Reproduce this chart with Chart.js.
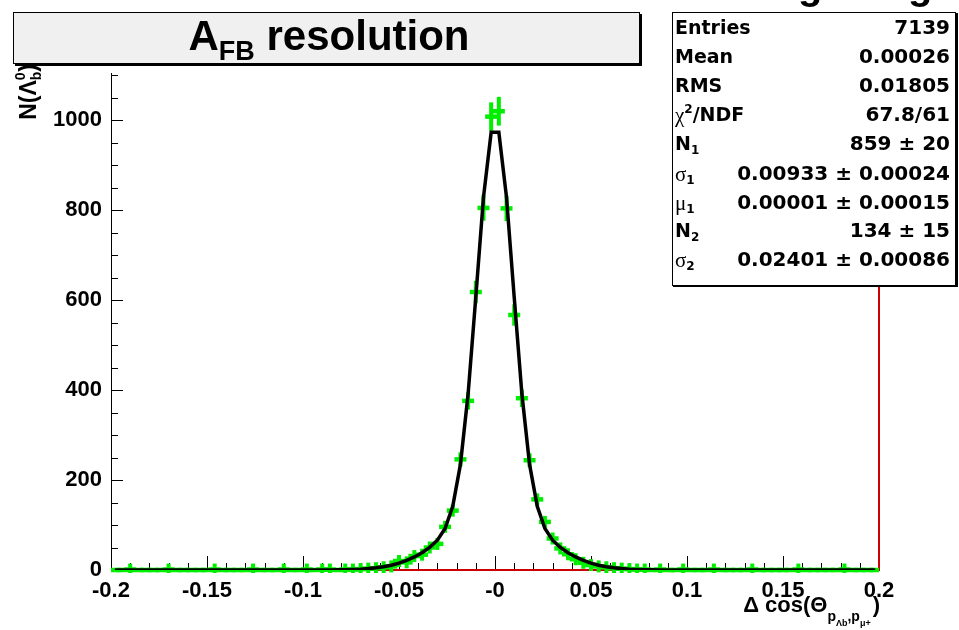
<!DOCTYPE html>
<html><head><meta charset="utf-8">
<script src="https://cdn.jsdelivr.net/npm/chart.js@4.4.0/dist/chart.umd.min.js"></script>
<style>html,body{margin:0;padding:0;background:#fff;}canvas{display:block;}</style>
</head><body>
<canvas id="c" width="959" height="630"></canvas>
<script>
// ---- data ----
const binLow = -0.2, binWidth = 0.004;
const counts = [
  0,0,1,0,0,0,0,1,0,0, 0,0,0,1,0,0,0,0,1,0, 0,0,1,0,0,1,0,1,
  1,0,1,1,2,3,4,6,8,20,17,31,34,50,58,96,132,246,376,618,805,1008,
  1020,804,567,382,244,157,107,70,48,35,24,16,11,8,6,4,3,2,1,1,0,1,
  0,0,1,0,0,0,1,0,0,0, 0,1,0,0,0,0,0,1,0,0, 0,0,0,1,0,0,0,0
];
const fitValues = [
  0,0,0,0,0,0,0,0,0,0, 0,0,0,0,0,0,0,0,0,0, 0,0,0,0,0,0,0,
  0.1,0.2,0.4,0.7,1.2,1.9,3.1,4.8,7.2,10.7,15.3,21.4,29.0,38.5,50.3,66.3,92.3,141.4,234.8,391.8,606.6,828.5,973,
  973,828.5,606.6,391.8,234.8,141.4,92.3,66.3,50.3,38.5,29.0,21.4,15.3,10.7,7.2,4.8,3.1,1.9,1.2,0.7,0.4,0.2,0.1,
  0,0,0,0,0,0,0,0,0,0, 0,0,0,0,0,0,0,0,0,0, 0,0,0,0,0,0,0
];
const redLineX = [-0.2, 0.2, 0.2];
const redLineY = [0, 0, 1105];
const xTickValues = [-0.2,-0.15,-0.1,-0.05,0,0.05,0.1,0.15,0.2];
const xTickLabels = ["-0.2","-0.15","-0.1","-0.05","-0","0.05","0.1","0.15","0.2"];
const yTickValues = [0,200,400,600,800,1000];
const yTickLabels = ["0","200","400","600","800","1000"];
const statNames = ["Entries","Mean","RMS","χ2/NDF","N1","σ1","μ1","N2","σ2"];
const statValues = ["7139","0.00026","0.01805","67.8/61","859 ± 20","0.00933 ± 0.00024","0.00001 ± 0.00015","134 ± 15","0.02401 ± 0.00086"];
const titleText = ["A","FB"," resolution"];

const binCenters = counts.map((_, i) => binLow + binWidth * (i + 0.5));
const fitData = fitValues.map((v, i) => ({x: binCenters[i], y: v}));
const countData = counts.map((v, i) => ({x: binCenters[i], y: v}));
const redData = redLineX.map((v, i) => ({x: v, y: redLineY[i]}));

const SANS = '"Liberation Sans", Arial, sans-serif';
const STAT = '"DejaVu Sans", sans-serif';
const SERIF = '"Liberation Serif", serif';

function runWidth(ctx, parts) {
  let w = 0;
  for (const p of parts) { ctx.font = p.f; if (!p.na) w += ctx.measureText(p.t).width + (p.g || 0); }
  return w;
}
function drawRun(ctx, x, y, parts) {
  for (const p of parts) {
    ctx.font = p.f;
    ctx.fillText(p.t, x, y + (p.dy || 0));
    if (!p.na) x += ctx.measureText(p.t).width + (p.g || 0);
  }
  return x;
}

const errorBars = {
  id: 'errorBars',
  beforeDatasetDraw(chart, args) {
    if (args.index !== 0) return;
    const {ctx, chartArea, scales: {x, y}} = chart;
    const arm = 6;
    ctx.save();
    ctx.beginPath();
    ctx.rect(chartArea.left, chartArea.top, chartArea.right - chartArea.left, chartArea.bottom - chartArea.top + 3);
    ctx.clip();
    ctx.strokeStyle = '#00ee00';
    counts.forEach((n, i) => {
      const cx = x.getPixelForValue(binCenters[i]);
      const cy = y.getPixelForValue(n);
      ctx.lineWidth = 4.5;
      ctx.beginPath(); ctx.moveTo(cx - arm, cy); ctx.lineTo(cx + arm, cy); ctx.stroke();
      if (n > 0) {
        const e = Math.sqrt(n);
        const t = Math.min(y.getPixelForValue(n + e), cy - arm);
        const b = Math.max(y.getPixelForValue(n - e), cy + arm);
        ctx.lineWidth = 4;
        ctx.beginPath(); ctx.moveTo(cx, t); ctx.lineTo(cx, b); ctx.stroke();
      }
    });
    ctx.restore();
  }
};

const axesTicks = {
  id: 'axesTicks',
  beforeDatasetsDraw(chart) {
    const {ctx, chartArea: a, scales: {x, y}} = chart;
    ctx.save();
    ctx.strokeStyle = '#000'; ctx.lineWidth = 1;
    ctx.beginPath();
    ctx.moveTo(a.left + 0.5, a.top); ctx.lineTo(a.left + 0.5, a.bottom + 1);
    ctx.moveTo(a.left, a.bottom + 0.5); ctx.lineTo(a.right, a.bottom + 0.5);
    for (let k = 0; k <= 40; k++) {
      const px = Math.round(x.getPixelForValue(-0.2 + 0.01 * k)) + 0.5;
      const len = (k % 5 === 0) ? 14 : 7;
      ctx.moveTo(px, a.bottom); ctx.lineTo(px, a.bottom - len);
    }
    for (let k = 0; k <= 22; k++) {
      const py = Math.round(y.getPixelForValue(50 * k)) + 0.5;
      const len = (k % 4 === 0) ? 12 : 7;
      ctx.moveTo(a.left, py); ctx.lineTo(a.left + len, py);
    }
    ctx.stroke();
    ctx.restore();
  }
};

const decorations = {
  id: 'decorations',
  afterDraw(chart) {
    const ctx = chart.ctx;
    ctx.save();
    ctx.fillStyle = '#000';
    ctx.textBaseline = 'alphabetic';
    // cut-off text at the very top
    ctx.font = 'bold 40px ' + SANS;
    ctx.fillText('g', 798, -1);
    ctx.fillText('g', 908, -1);

    // title box
    ctx.fillStyle = '#000';
    ctx.fillRect(15, 14, 627, 52);
    ctx.fillStyle = '#f0f0f0';
    ctx.fillRect(13, 12, 627, 52);
    ctx.strokeStyle = '#000'; ctx.lineWidth = 1;
    ctx.strokeRect(13.5, 12.5, 626, 51);
    ctx.fillStyle = '#000';
    const tParts = [
      {t: titleText[0], f: 'bold 42px ' + SANS},
      {t: titleText[1], f: 'bold 27px ' + SANS, dy: 10},
      {t: titleText[2], f: 'bold 42px ' + SANS}
    ];
    const tw = runWidth(ctx, tParts);
    drawRun(ctx, 329 - tw / 2, 50, tParts);

    // stats box
    ctx.fillStyle = '#000';
    ctx.fillRect(673, 13, 285, 274);
    ctx.fillStyle = '#fff';
    ctx.fillRect(672, 12, 284, 274);
    ctx.strokeRect(672.5, 12.5, 283, 273);
    ctx.fillStyle = '#000';
    ctx.textBaseline = 'middle';
    const rowY = [29, 58, 87, 116, 145, 175, 204, 232, 261];
    const B = 'bold 19px ' + STAT, SUB = 'bold 12px ' + STAT, GR = '21px ' + SERIF;
    const labelParts = [
      [{t: statNames[0], f: B}],
      [{t: statNames[1], f: B}],
      [{t: statNames[2], f: B}],
      [{t: 'χ', f: GR}, {t: '2', f: SUB, dy: -6}, {t: '/NDF', f: B}],
      [{t: 'N', f: B}, {t: '1', f: SUB, dy: 6}],
      [{t: 'σ', f: GR}, {t: '1', f: SUB, dy: 6}],
      [{t: 'μ', f: GR}, {t: '1', f: SUB, dy: 6}],
      [{t: 'N', f: B}, {t: '2', f: SUB, dy: 6}],
      [{t: 'σ', f: GR}, {t: '2', f: SUB, dy: 6}]
    ];
    labelParts.forEach((parts, i) => drawRun(ctx, 675, rowY[i], parts));
    ctx.font = 'bold 20px ' + STAT;
    ctx.textAlign = 'right';
    statValues.forEach((v, i) => ctx.fillText(v, 950, rowY[i]));
    ctx.textAlign = 'left';
    ctx.textBaseline = 'alphabetic';

    // y axis title
    ctx.save();
    ctx.translate(36, 64);
    ctx.rotate(-Math.PI / 2);
    const yParts = [
      {t: 'N(Λ', f: 'bold 23px ' + SANS},
      {t: '0', f: 'bold 14px ' + SANS, dy: -11, na: true},
      {t: 'b', f: 'bold 14px ' + SANS, dy: 5},
      {t: ')', f: 'bold 23px ' + SANS}
    ];
    const yw = runWidth(ctx, yParts);
    drawRun(ctx, -yw, 0, yParts);
    ctx.restore();

    // x axis title
    const xParts = [
      {t: 'Δ cos(Θ', f: 'bold 22px ' + SANS},
      {t: 'p', f: 'bold 14px ' + SANS, dy: 9},
      {t: 'Λb', f: 'bold 9px ' + SANS, dy: 14},
      {t: ',', f: 'bold 14px ' + SANS, dy: 9},
      {t: 'p', f: 'bold 14px ' + SANS, dy: 9},
      {t: 'μ+', f: 'bold 9px ' + SANS, dy: 14, g: 2},
      {t: ')', f: 'bold 22px ' + SANS}
    ];
    const xw = runWidth(ctx, xParts);
    drawRun(ctx, 880 - xw, 612, xParts);
    ctx.restore();
  }
};

new Chart(document.getElementById('c'), {
  type: 'scatter',
  data: {
    datasets: [
      {label: 'fit', data: fitData, showLine: true, borderColor: '#000', borderWidth: 3.5,
       pointRadius: 0, tension: 0, fill: false},
      {label: 'data', data: countData, showLine: false, pointRadius: 0,
       backgroundColor: '#00ee00', borderColor: '#00ee00'},
      {label: 'red', data: redData, showLine: true, borderColor: '#cc0000', borderWidth: 2,
       pointRadius: 0, tension: 0, clip: false}
    ]
  },
  options: {
    responsive: false,
    animation: false,
    devicePixelRatio: 1,
    layout: {padding: {top: 73, right: 80, left: 0, bottom: 0}},
    plugins: {legend: {display: false}, tooltip: {enabled: false}, title: {display: false}},
    scales: {
      x: {
        type: 'linear', min: -0.2, max: 0.2,
        grid: {display: false, drawTicks: false},
        border: {display: false},
        afterBuildTicks: s => { s.ticks = xTickValues.map(v => ({value: v})); },
        afterFit: s => { s.height = 60; },
        ticks: {
          autoSkip: false, maxRotation: 0, padding: 8, color: '#000',
          font: {family: SANS, size: 22, weight: 'bold'},
          callback: (v, i) => xTickLabels[i]
        }
      },
      y: {
        type: 'linear', min: 0, max: 1105,
        grid: {display: false, drawTicks: false},
        border: {display: false},
        afterBuildTicks: s => { s.ticks = yTickValues.map(v => ({value: v})); },
        afterFit: s => { s.width = 111; },
        ticks: {
          autoSkip: false, padding: 9, color: '#000',
          font: {family: SANS, size: 22, weight: 'bold'},
          callback: (v, i) => yTickLabels[i]
        }
      }
    }
  },
  plugins: [axesTicks, errorBars, decorations]
});
</script>
</body></html>
